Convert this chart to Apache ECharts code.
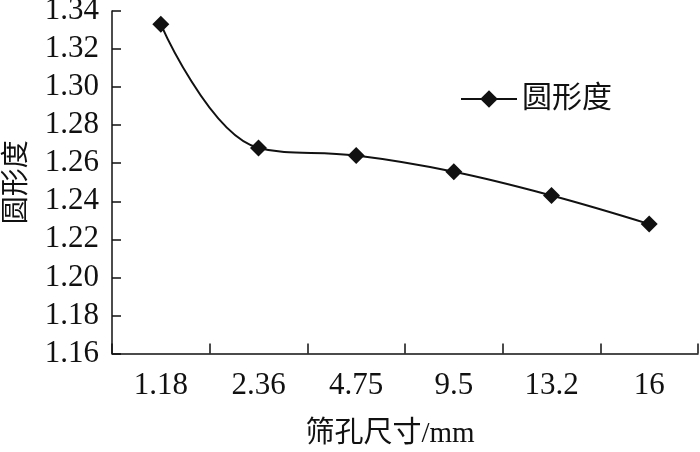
<!DOCTYPE html>
<html>
<head>
<meta charset="utf-8">
<script src="https://cdn.jsdelivr.net/npm/echarts@6/dist/echarts.min.js"></script>
<style>html,body{margin:0;padding:0;background:#fff}#c{width:700px;height:452px}</style>
</head>
<body>
<div id="c"></div>
<script>
var categories = ['1.18', '2.36', '4.75', '9.5', '13.2', '16'];
var roundness = [1.333, 1.268, 1.264, 1.2555, 1.243, 1.228];
var seriesName = '圆形度';
var xName = '筛孔尺寸/mm';
var yName = '圆形度';

var FONT = '"Liberation Serif", "Times New Roman", "Noto Sans CJK SC", serif';
var chart = echarts.init(document.getElementById('c'), null, {renderer: 'canvas'});
chart.setOption({
  animation: false,
  backgroundColor: '#fff',
  textStyle: {fontFamily: FONT, color: '#111'},
  grid: {left: 112, top: 11, right: 2, bottom: 98.5, containLabel: false, outerBoundsMode: 'none'},
  legend: {
    left: 455, top: 79,
    itemWidth: 56, itemHeight: 22,
    itemGap: 8,
    textStyle: {fontFamily: FONT, fontSize: 30, color: '#111'},
    data: [seriesName]
  },
  xAxis: {
    type: 'category',
    data: categories,
    boundaryGap: true,
    name: xName,
    nameLocation: 'middle',
    nameGap: 66,
    nameTextStyle: {fontFamily: FONT, fontSize: 29, color: '#111', padding: [0, 30, 0, 0]},
    axisLine: {lineStyle: {color: '#111', width: 1.5}},
    axisTick: {show: true, inside: true, length: 10, alignWithLabel: false, lineStyle: {color: '#111', width: 1.5}},
    axisLabel: {fontFamily: FONT, fontSize: 31, color: '#111', margin: 17},
    splitLine: {show: false}
  },
  yAxis: {
    type: 'value',
    min: 1.16, max: 1.34, interval: 0.02,
    name: yName,
    nameLocation: 'middle',
    nameGap: 80,
    nameRotate: 90,
    nameTextStyle: {fontFamily: FONT, fontSize: 28, color: '#111'},
    axisLine: {show: true, lineStyle: {color: '#111', width: 1.5}},
    axisTick: {show: true, inside: true, length: 9, lineStyle: {color: '#111', width: 1.5}},
    axisLabel: {fontFamily: FONT, fontSize: 31, color: '#111', margin: 13,
      formatter: function (v) { return v.toFixed(2); }},
    splitLine: {show: false}
  },
  series: [{
    name: seriesName,
    type: 'line',
    data: roundness,
    smooth: 0.4,
    symbol: 'diamond',
    symbolSize: 17,
    lineStyle: {color: '#111', width: 2},
    itemStyle: {color: '#111'}
  }]
});
</script>
</body>
</html>
